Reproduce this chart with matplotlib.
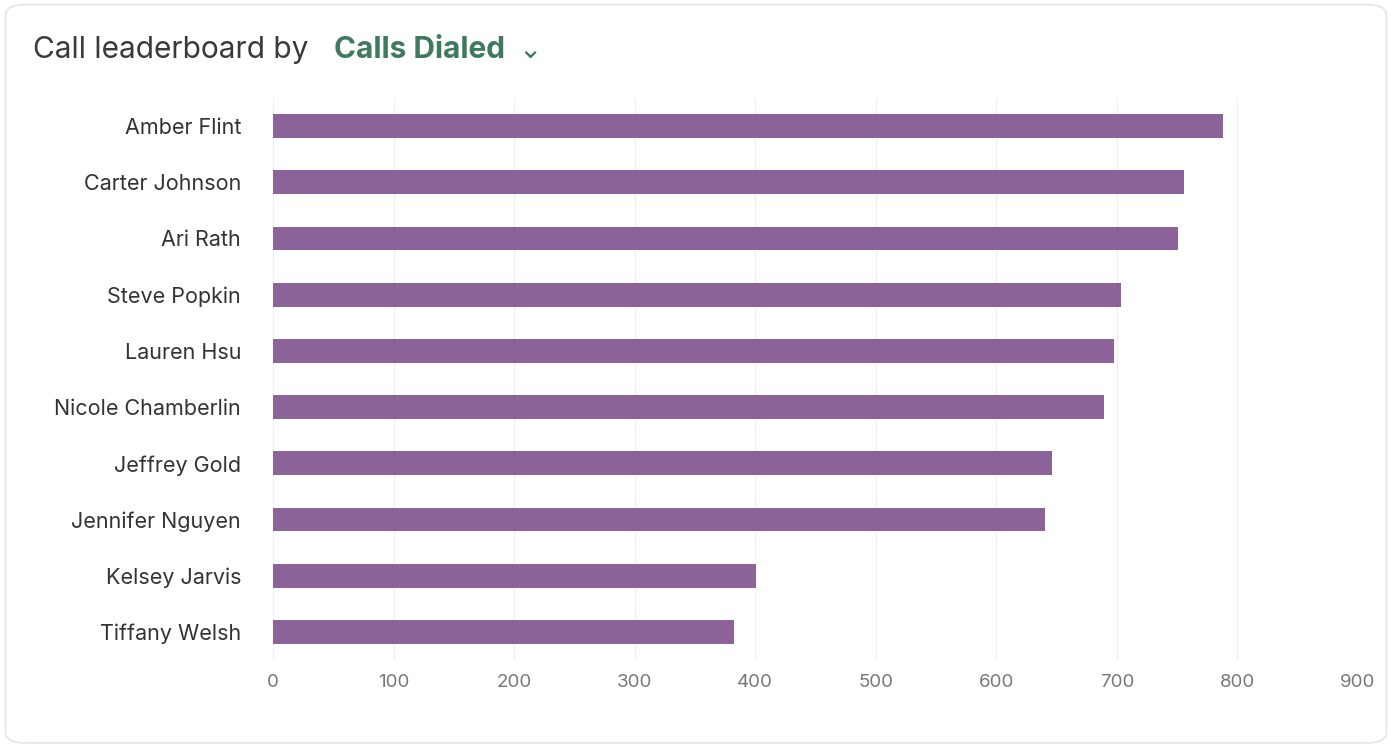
import matplotlib
matplotlib.use("Agg")
import matplotlib.pyplot as plt
from matplotlib.patches import FancyBboxPatch

names = ["Amber Flint", "Carter Johnson", "Ari Rath", "Steve Popkin", "Lauren Hsu",
         "Nicole Chamberlin", "Jeffrey Gold", "Jennifer Nguyen", "Kelsey Jarvis", "Tiffany Welsh"]
calls = [788, 756, 751, 703, 698, 689, 646, 640, 401, 382]
xticks = [0, 100, 200, 300, 400, 500, 600, 700, 800, 900]

plt.rcParams['font.family'] = ['Inter', 'DejaVu Sans']
fig = plt.figure(figsize=(13.92, 7.46), dpi=100)
card = FancyBboxPatch((0.004, 0.004), 0.992, 0.99, boxstyle="round,pad=0,rounding_size=0.015",
                      transform=fig.transFigure, facecolor='white', edgecolor='#e4e4e7', lw=1.2, zorder=-10)
fig.patches.append(card)
ax = fig.add_axes([273/1392, 1-660/746, (1358-273)/1392, (660-98)/746])
ax.set_facecolor('none')
y = list(range(len(names)))
ax.barh(y, calls, height=0.42, color='#8B6399', zorder=2)
ax.set_yticks(y)
ax.set_yticklabels(names, fontsize=15.5, color='#333333')
ax.set_ylim(9.5, -0.5)
ax.set_xlim(0, 900)
ax.set_xticks(xticks)
ax.set_xticklabels([str(t) for t in xticks], fontsize=13.5, color='#777777')
ax.grid(axis='x', color='#f0f0f0', lw=1, zorder=0)
for s in ax.spines.values():
    s.set_visible(False)
ax.tick_params(length=0, axis='y', pad=23)
ax.tick_params(length=0, axis='x', pad=10)
fig.text(33/1392, 1-50/746, "Call leaderboard by", fontsize=21.5, color='#3a3a3a', va='center')
fig.text(334/1392, 1-50/746, "Calls Dialed", fontsize=21.5, color='#3F7A5E', fontweight='bold', va='center')
fig.text(518/1392, 1-50/746, "\u2304", fontsize=20, color='#3F7A5E', va='center', family=['DejaVu Sans'])
fig.savefig("out.png", dpi=100)
